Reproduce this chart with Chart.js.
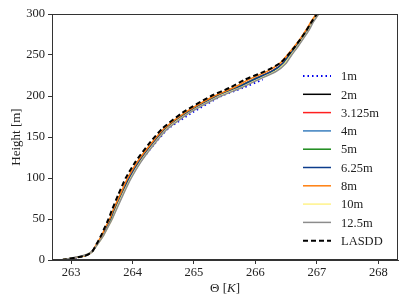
<!DOCTYPE html>
<html>
<head>
    <title>Theta profiles</title>
    <script src="https://cdn.jsdelivr.net/npm/chart.js@4.4.1/dist/chart.umd.min.js"></script>
    <style>
        body { margin: 0; background: #fff; }
    </style>
</head>
<body>
    <canvas id="profileChart" width="407" height="305"></canvas>

    <script>
        // heights shared by all profiles [m]
        const heights = [0, 5, 10, 20, 30, 40, 50, 60, 80, 100, 120, 140, 160, 180, 200, 210, 220, 230, 240, 250, 260, 270, 280, 290, 300];

        // potential temperature [K] at each height
        const theta1m    = [262.85, 263.22, 263.34, 263.43, 263.51, 263.58, 263.65, 263.70, 263.83, 263.96, 264.13, 264.34, 264.58, 264.98, 265.45, 265.80, 266.12];
        const theta2m    = [262.85, 263.22, 263.34, 263.43, 263.51, 263.57, 263.64, 263.69, 263.81, 263.94, 264.10, 264.30, 264.54, 264.89, 265.37, 265.69, 265.96, 266.26, 266.45, 266.55, 266.66, 266.75, 266.84, 266.92, 267.01];
        const theta3125m = [262.85, 263.22, 263.34, 263.43, 263.51, 263.58, 263.64, 263.70, 263.82, 263.94, 264.10, 264.30, 264.54, 264.90, 265.38, 265.70, 265.97, 266.26, 266.45, 266.55, 266.66, 266.75, 266.84, 266.92, 267.01];
        const theta4m    = [262.85, 263.22, 263.34, 263.43, 263.51, 263.58, 263.65, 263.70, 263.82, 263.95, 264.11, 264.31, 264.55, 264.90, 265.39, 265.70, 265.97, 266.27, 266.46, 266.56, 266.66, 266.75, 266.84, 266.92, 267.01];
        const theta5m    = [262.85, 263.22, 263.34, 263.43, 263.52, 263.58, 263.65, 263.71, 263.83, 263.96, 264.12, 264.32, 264.55, 264.91, 265.39, 265.71, 265.98, 266.28, 266.46, 266.56, 266.66, 266.76, 266.85, 266.93, 267.02];
        const theta625m  = [262.85, 263.22, 263.34, 263.43, 263.51, 263.58, 263.64, 263.70, 263.82, 263.95, 264.11, 264.31, 264.54, 264.90, 265.38, 265.71, 265.98, 266.27, 266.45, 266.55, 266.66, 266.75, 266.84, 266.92, 267.01];
        const theta8m    = [262.85, 263.22, 263.34, 263.42, 263.50, 263.56, 263.63, 263.68, 263.80, 263.92, 264.08, 264.28, 264.51, 264.86, 265.33, 265.64, 265.89, 266.19, 266.40, 266.52, 266.63, 266.73, 266.82, 266.90, 266.99];
        const theta10m   = [262.85, 263.19, 263.34, 263.44, 263.53, 263.60, 263.67, 263.72, 263.84, 263.97, 264.13, 264.33, 264.56, 264.93, 265.42, 265.75, 266.03, 266.32, 266.48, 266.58, 266.68, 266.77, 266.86, 266.93, 267.02];
        const theta125m  = [262.85, 263.17, 263.34, 263.44, 263.53, 263.60, 263.67, 263.73, 263.85, 263.98, 264.14, 264.34, 264.57, 264.94, 265.44, 265.77, 266.05, 266.34, 266.50, 266.59, 266.69, 266.78, 266.87, 266.94, 267.03];
        const thetaLASDD = [262.85, 263.22, 263.34, 263.42, 263.49, 263.55, 263.61, 263.66, 263.77, 263.89, 264.05, 264.25, 264.48, 264.82, 265.28, 265.58, 265.83, 266.15, 266.40, 266.53, 266.64, 266.74, 266.83, 266.91, 267.00];

        const seriesLabels = ['1m', '2m', '3.125m', '4m', '5m', '6.25m', '8m', '10m', '12.5m', 'LASDD'];
        const seriesData = [theta1m, theta2m, theta3125m, theta4m, theta5m, theta625m, theta8m, theta10m, theta125m, thetaLASDD];

        const xTicks = [263, 264, 265, 266, 267, 268];
        const yTicks = [0, 50, 100, 150, 200, 250, 300];

        const colors = ['#0000ee', '#000000', '#ff2020', '#3a7fbf', '#1a8a1a', '#0c3c8c', '#ff7f0e', '#fff38a', '#8c8c8c', '#000000'];
        const dashes = [[1.5, 3], [], [], [], [], [], [], [], [], [5, 3]];
        const widths = [1.8, 1.5, 1.5, 1.5, 1.5, 1.5, 1.5, 1.5, 1.5, 2];

        const serif = '"Liberation Serif", "DejaVu Serif", serif';
        const textColor = '#222';
        const axisColor = '#333';

        const datasets = seriesData.map((thetas, i) => ({
            label: seriesLabels[i],
            data: thetas.map((t, k) => ({ x: t, y: heights[k] })),
            showLine: true,
            borderColor: colors[i],
            backgroundColor: colors[i],
            borderWidth: widths[i],
            borderDash: dashes[i],
            pointRadius: 0,
            tension: 0.2,
            fill: false,
            // matplotlib draws later lines on top
            order: seriesData.length - i
        }));

        // spines on top/right, axis titles and the legend
        const decorations = {
            id: 'decorations',
            afterDraw(chart) {
                const c = chart.ctx;
                const a = chart.chartArea;
                c.save();
                c.strokeStyle = axisColor;
                c.lineWidth = 1;
                c.strokeRect(a.left + 0.5, a.top + 0.5, a.right - a.left - 1, a.bottom - a.top - 1);

                c.fillStyle = textColor;
                c.textBaseline = 'middle';

                // x title: Θ [K] with italic K
                const parts = [['Θ [', 'normal'], ['K', 'italic'], [']', 'normal']];
                let total = 0;
                parts.forEach(p => {
                    c.font = p[1] + ' 13px ' + serif;
                    total += c.measureText(p[0]).width;
                });
                let xPos = (a.left + a.right) / 2 - total / 2;
                c.textAlign = 'left';
                parts.forEach(p => {
                    c.font = p[1] + ' 13px ' + serif;
                    c.fillText(p[0], xPos, 289);
                    xPos += c.measureText(p[0]).width;
                });

                // y title
                c.save();
                c.translate(17, (a.top + a.bottom) / 2);
                c.rotate(-Math.PI / 2);
                c.textAlign = 'center';
                c.font = '13px ' + serif;
                c.fillText('Height [m]', 0, 0);
                c.restore();

                // legend
                const lineStart = a.right - 95;
                const lineEnd = a.right - 67;
                const textX = a.right - 57;
                chart.data.datasets.forEach((ds, i) => {
                    const y = 76 + i * 18.3;
                    c.beginPath();
                    c.strokeStyle = ds.borderColor;
                    c.lineWidth = ds.borderWidth;
                    c.setLineDash(ds.borderDash);
                    c.moveTo(lineStart, y);
                    c.lineTo(lineEnd, y);
                    c.stroke();
                    c.setLineDash([]);
                    c.font = '12.5px ' + serif;
                    c.fillStyle = textColor;
                    c.textAlign = 'left';
                    c.fillText(ds.label, textX, y + 1);
                });
                c.restore();
            }
        };

        const ctx = document.getElementById('profileChart').getContext('2d');
        const profileChart = new Chart(ctx, {
            type: 'scatter',
            data: { datasets: datasets },
            options: {
                responsive: false,
                animation: false,
                layout: { padding: { top: 14, right: 9, left: 0, bottom: 0 } },
                plugins: {
                    legend: { display: false },
                    tooltip: { enabled: false }
                },
                scales: {
                    x: {
                        type: 'linear',
                        min: 262.69,
                        max: 268.32,
                        afterBuildTicks: scale => { scale.ticks = xTicks.map(v => ({ value: v })); },
                        afterFit: scale => { scale.height = 45; },
                        grid: { drawOnChartArea: false, drawTicks: true, tickLength: 4, color: axisColor },
                        border: { display: true, color: axisColor, width: 1 },
                        ticks: {
                            color: textColor,
                            padding: 1,
                            maxRotation: 0,
                            font: { family: serif, size: 12.5 },
                            callback: v => String(v)
                        }
                    },
                    y: {
                        type: 'linear',
                        min: 0,
                        max: 300,
                        afterBuildTicks: scale => { scale.ticks = yTicks.map(v => ({ value: v })); },
                        afterFit: scale => { scale.width = 52; },
                        grid: { drawOnChartArea: false, drawTicks: true, tickLength: 4, color: axisColor },
                        border: { display: true, color: axisColor, width: 1 },
                        ticks: {
                            color: textColor,
                            padding: 3,
                            font: { family: serif, size: 12.5 },
                            callback: v => String(v)
                        }
                    }
                }
            },
            plugins: [decorations]
        });
    </script>
</body>
</html>
